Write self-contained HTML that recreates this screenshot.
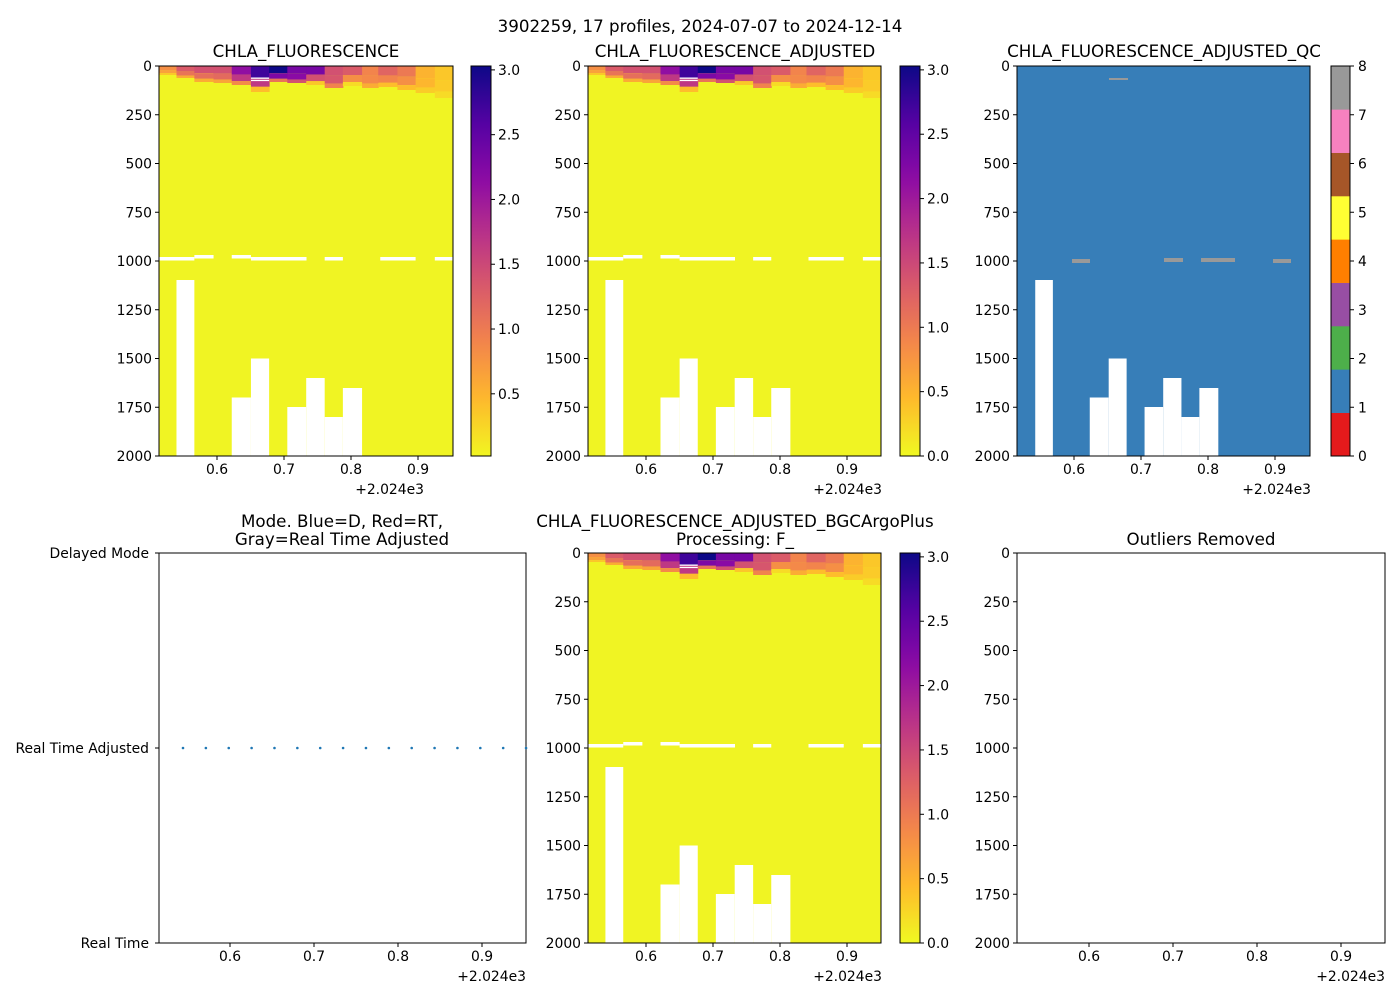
<!DOCTYPE html><html><head><meta charset="utf-8"><style>body{margin:0;background:#fff}svg{font-family:"DejaVu Sans","Liberation Sans",sans-serif}</style></head><body>
<svg id="s" width="1400" height="1000" xmlns="http://www.w3.org/2000/svg"></svg>
<script>
const S=document.getElementById('s');let h='';
const plasma=[[13,8,135],[84,2,163],[139,10,165],[185,50,137],[219,92,104],[244,136,73],[254,188,43],[240,249,33]];
function pc(v,mx){let t=1-v/mx;t=Math.max(0,Math.min(1,t));let f=t*7,i=Math.min(6,Math.floor(f)),r=f-i;let a=plasma[i],b=plasma[i+1];return`rgb(${a.map((x,k)=>Math.round(x+(b[k]-x)*r)).join(',')})`;}
const txt=(x,y,s,o='')=>h+=`<text x="${x}" y="${y}" ${o}>${s}</text>`;
const tops=[[0.8,0.5,75],[1.3,0.8,78],[1.4,0.8,82],[1.4,0.9,83],[2.1,1.2,85],[2.7,0.6,92],[3.0,1.5,82],[2.3,2.0,83],[2.3,0.5,85],[1.4,1.3,88],[1.3,0.3,86],[0.9,0.8,88],[1.2,0.6,87],[1.0,0.6,90],[0.5,0.45,93],[0.35,0.3,98]];
const cx=[160,177.3,195,214,232,251,269,287,305.7,324,342,361,377,396,414,433,451];
const bots=[[1,280],[4,397.5],[5,358.5],[7,407],[8,378],[9,417],[10,388]];
const dashes=[[160,195,257],[195,214,255],[232,251,255],[251,306,257],[324,342,257],[379,414,257],[433,451,257]];
function heat(x0,y0,x1){
 const X=v=>x0+(v-160)*(x1-x0)/(451-160);
 h+=`<rect x="${x0}" y="${y0}" width="${x1-x0}" height="390" fill="#f0f423"/>`;
 for(let i=0;i<16;i++){const [a,b,d]=tops[i];const xa=X(cx[i]),xb=X(cx[i+1]);const dy=d-66;
  h+=`<rect x="${xa}" y="${y0}" width="${xb-xa+0.5}" height="${dy*0.45}" fill="${pc(a,3)}"/>`;
  h+=`<rect x="${xa}" y="${y0+dy*0.45}" width="${xb-xa+0.5}" height="${dy*0.35}" fill="${pc((a+b)/2,3)}"/>`;
  h+=`<rect x="${xa}" y="${y0+dy*0.8}" width="${xb-xa+0.5}" height="${dy*0.2}" fill="${pc(b*0.7,3)}"/>`;}
 for(const [i,y] of bots){const xa=X(cx[i]),xb=X(cx[i+1]);h+=`<rect x="${xa}" y="${y0+y-66}" width="${xb-xa}" height="${456-y}" fill="#fff"/>`;}
 for(const [a,b,y] of dashes)h+=`<rect x="${X(a)}" y="${y0+y-66}" width="${X(b)-X(a)}" height="3.5" fill="#fff"/>`;
 h+=`<rect x="${X(251)}" y="${y0+11.5}" width="${X(269)-X(251)}" height="1.3" fill="#fff"/><rect x="${X(251)}" y="${y0+13.8}" width="${X(269)-X(251)}" height="1.3" fill="#fff"/>`;
}
function frame(x0,y0,x1,y1){h+=`<rect x="${x0}" y="${y0}" width="${x1-x0}" height="${y1-y0}" fill="none" stroke="#000" stroke-width="1"/>`;}
function ydepth(x0,y0){for(let k=0;k<=8;k++){const v=k*250,y=y0+v*0.195;h+=`<line x1="${x0-4}" y1="${y}" x2="${x0}" y2="${y}" stroke="#000"/>`;txt(x0-7,y+5,v,'font-size="13.9" text-anchor="end"');}}
function xt(y1,p6,step,x1){[0.6,0.7,0.8,0.9].forEach((v,i)=>{const x=p6+i*step;h+=`<line x1="${x}" y1="${y1}" x2="${x}" y2="${y1+4}" stroke="#000"/>`;txt(x,y1+18,v,'font-size="13.9" text-anchor="middle"');});txt(x1,y1+38,'+2.024e3','font-size="13.9" text-anchor="end"');}
let gid=0;
function cbar(x,y0,ticks,lo,hi){gid++;h+=`<defs><linearGradient id="g${gid}" x1="0" y1="1" x2="0" y2="0">`;for(let k=0;k<=20;k++){h+=`<stop offset="${k/20}" stop-color="${pc(lo+k/20*(hi-lo),3.03)}"/>`;}h+=`</linearGradient></defs><rect x="${x}" y="${y0}" width="20" height="390" fill="url(#g${gid})" stroke="#000"/>`;
 ticks.forEach(v=>{const y=y0+390-(v-lo)/(hi-lo)*390;h+=`<line x1="${x+20}" y1="${y}" x2="${x+24}" y2="${y}" stroke="#000"/>`;txt(x+27,y+5,v.toFixed(1),'font-size="13.9"');});}
const T='font-size="16.7" text-anchor="middle"';
txt(700,32,'3902259, 17 profiles, 2024-07-07 to 2024-12-14',T);
heat(159,66,453);frame(159,66,453,456);ydepth(159,66);xt(456,217,67,424);txt(306,57,'CHLA_FLUORESCENCE',T);
cbar(471,66,[0.5,1.0,1.5,2.0,2.5,3.0],0.02,3.03);
heat(588,66,881);frame(588,66,881,456);ydepth(588,66);xt(456,646,67,882);txt(735,57,'CHLA_FLUORESCENCE_ADJUSTED',T);
cbar(900,66,[0.0,0.5,1.0,1.5,2.0,2.5,3.0],0,3.03);
h+=`<rect x="1017" y="66" width="293" height="390" fill="#377eb8"/>`;
const X3=v=>1017+(v-159)*(293/294);
for(const [i,y] of bots){h+=`<rect x="${X3(cx[i])}" y="${y}" width="${X3(cx[i+1])-X3(cx[i])}" height="${456-y}" fill="#fff"/>`;}
[[1072,1090,259],[1164,1183,258],[1201,1235,258],[1273,1291,259]].forEach(([a,b,y])=>h+=`<rect x="${a}" y="${y}" width="${b-a}" height="4" fill="#999"/>`);
h+=`<rect x="1109" y="78" width="19" height="2" fill="#999"/>`;
frame(1017,66,1310,456);ydepth(1017,66);xt(456,1074,67,1311);txt(1164,57,'CHLA_FLUORESCENCE_ADJUSTED_QC',T);
const qc=['#e41a1c','#377eb8','#4daf4a','#984ea3','#ff7f00','#ffff33','#a65628','#f781bf','#999999'];
const qh=390/9;
qc.forEach((c,k)=>h+=`<rect x="1331" y="${456-(k+1)*qh}" width="19" height="${qh+0.3}" fill="${c}"/>`);
h+=`<rect x="1331" y="66" width="19" height="390" fill="none" stroke="#000"/>`;
for(let k=0;k<=8;k++){const y=456-k*48.75;h+=`<line x1="1350" y1="${y}" x2="1354" y2="${y}" stroke="#000"/>`;txt(1358,y+5,k,'font-size="13.9"');}
frame(159,553,526,943);
[['Delayed Mode',553],['Real Time Adjusted',748],['Real Time',943]].forEach(([s,y])=>{h+=`<line x1="155" y1="${y}" x2="159" y2="${y}" stroke="#000"/>`;txt(149,y+5,s,'font-size="13.9" text-anchor="end"');});
for(let i=0;i<16;i++)h+=`<circle cx="${183+i*22.87}" cy="748" r="1.3" fill="#1f77b4"/>`;
xt(943,230,84,526);txt(342,527,'Mode. Blue=D, Red=RT,',T);txt(342,545,'Gray=Real Time Adjusted',T);
heat(588,553,881);frame(588,553,881,943);ydepth(588,553);xt(943,646,67,882);
txt(735,527,'CHLA_FLUORESCENCE_ADJUSTED_BGCArgoPlus',T);txt(735,545,'Processing: F_',T);
cbar(900,553,[0.0,0.5,1.0,1.5,2.0,2.5,3.0],0,3.03);
frame(1017,553,1385,943);ydepth(1017,553);xt(943,1089,84,1385);txt(1201,545,'Outliers Removed',T);
S.innerHTML=h;
</script></body></html>
